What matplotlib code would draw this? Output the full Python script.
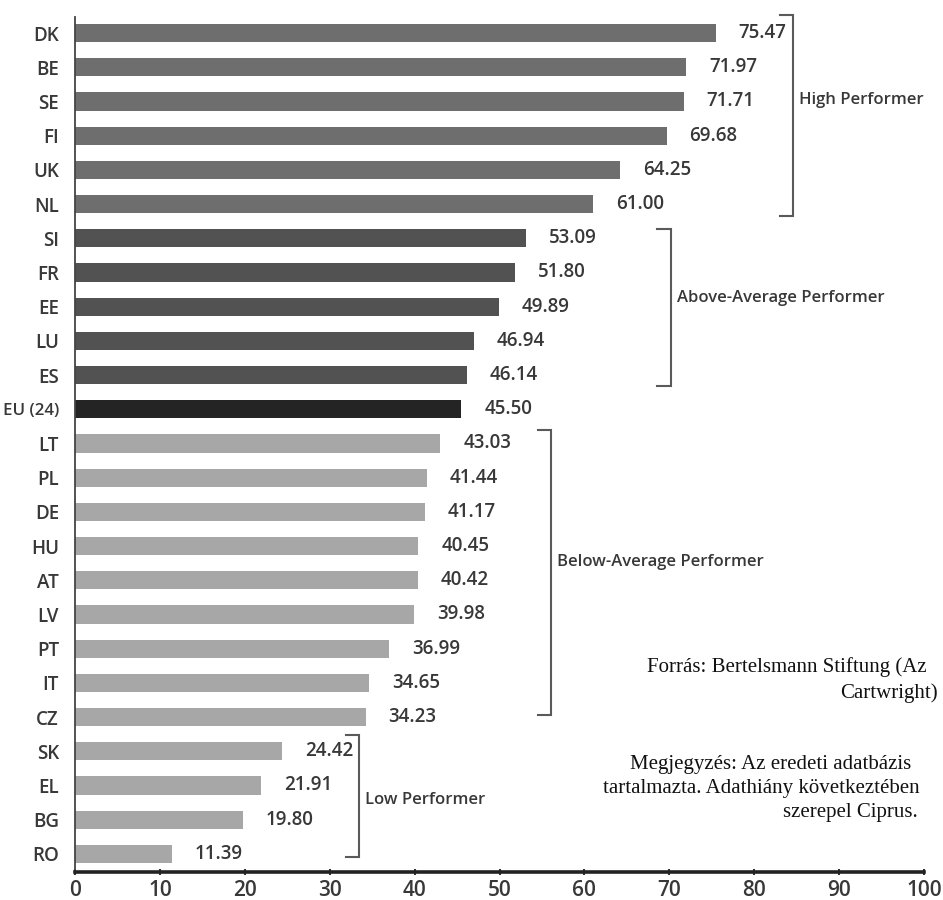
import matplotlib
matplotlib.use("Agg")
import matplotlib.pyplot as plt
from matplotlib import font_manager

countries = ["DK", "BE", "SE", "FI", "UK", "NL", "SI", "FR", "EE", "LU", "ES",
             "EU (24)", "LT", "PL", "DE", "HU", "AT", "LV", "PT", "IT", "CZ",
             "SK", "EL", "BG", "RO"]
scores = [75.47, 71.97, 71.71, 69.68, 64.25, 61.00, 53.09, 51.80, 49.89, 46.94,
          46.14, 45.50, 43.03, 41.44, 41.17, 40.45, 40.42, 39.98, 36.99, 34.65,
          34.23, 24.42, 21.91, 19.80, 11.39]
groups = ["high"] * 6 + ["above"] * 5 + ["eu"] + ["below"] * 9 + ["low"] * 4
group_names = {"high": "High Performer", "above": "Above-Average Performer",
               "below": "Below-Average Performer", "low": "Low Performer"}
xticks = [0, 10, 20, 30, 40, 50, 60, 70, 80, 90, 100]

colors = {"high": "#6e6e6e", "above": "#525252", "eu": "#242424",
          "below": "#a7a7a7", "low": "#a7a7a7"}

# bracket layout: group -> (x of bracket, top y, bottom y, label y)
brackets = {
    "high": (84.6, -0.53, 5.35, 1.96),
    "above": (70.2, 5.73, 10.32, 7.75),
    "below": (56.1, 11.61, 19.94, 15.47),
    "low": (33.5, 20.53, 24.09, 22.43),
}

names = [f.name for f in font_manager.fontManager.ttflist]
sans = "Open Sans" if "Open Sans" in names else "DejaVu Sans"
plt.rcParams["font.family"] = sans
txt = "#383838"

fig = plt.figure(figsize=(9.43, 9.0), dpi=100)
ax = fig.add_axes([75 / 943, 1 - 872 / 900, 849 / 943, 855 / 900])

ypos = list(range(len(countries)))
ax.barh(ypos, scores, height=0.53, color=[colors[g] for g in groups])

for y, v in zip(ypos, scores):
    ax.annotate(f"{v:.2f}", (v, y), xytext=(16.5, 0), textcoords="offset points",
                va="center", ha="left", fontsize=13.5, fontweight="semibold",
                color=txt)

for g, (bx, top, bot, ly) in brackets.items():
    ax.plot([bx - 1.6, bx, bx, bx - 1.6], [top, top, bot, bot], color="#5a5a5a",
            lw=1.5, clip_on=False, solid_joinstyle="miter")
    ax.text(bx + 0.7, ly, group_names[g], va="center", ha="left", fontsize=12,
            fontweight="semibold", color=txt)

ax.set_xlim(0, 100)
ax.set_ylim(24.53, -0.47)
ax.set_yticks(ypos)
ax.set_yticklabels(countries, fontsize=13.5, fontweight="semibold", color=txt)
# the EU average label is the widest one, keep it inside the figure
ax.get_yticklabels()[countries.index("EU (24)")].set_fontsize(12.2)
ax.set_xticks(xticks)
ax.set_xticklabels([str(t) for t in xticks], fontsize=15, fontweight="semibold",
                   color=txt)
ax.tick_params(axis="y", length=0, pad=11.5)
ax.tick_params(axis="x", length=4, width=1.5, pad=4, color="#333333",
               direction="inout")

for s in ["top", "right"]:
    ax.spines[s].set_visible(False)
ax.spines["left"].set_color("#444444")
ax.spines["left"].set_linewidth(1.3)
ax.spines["bottom"].set_color("#222222")
ax.spines["bottom"].set_linewidth(2.6)

# source and note, set in a serif face
serif = dict(family="Liberation Serif", fontsize=15, color="#111111",
             va="center")
notes = [
    (647, 667, "left", "Forrás: Bertelsmann Stiftung (Az"),
    (938, 693, "right", "Cartwright)"),
    (630, 765, "left", "Megjegyzés: Az eredeti adatbázis"),
    (603, 789, "left", "tartalmazta. Adathiány következtében"),
    (783, 812, "left", "szerepel Ciprus."),
]
for px, py, ha, s in notes:
    fig.text(px / 943, 1 - py / 900, s, ha=ha, **serif)

fig.savefig("out.png", dpi=100)
